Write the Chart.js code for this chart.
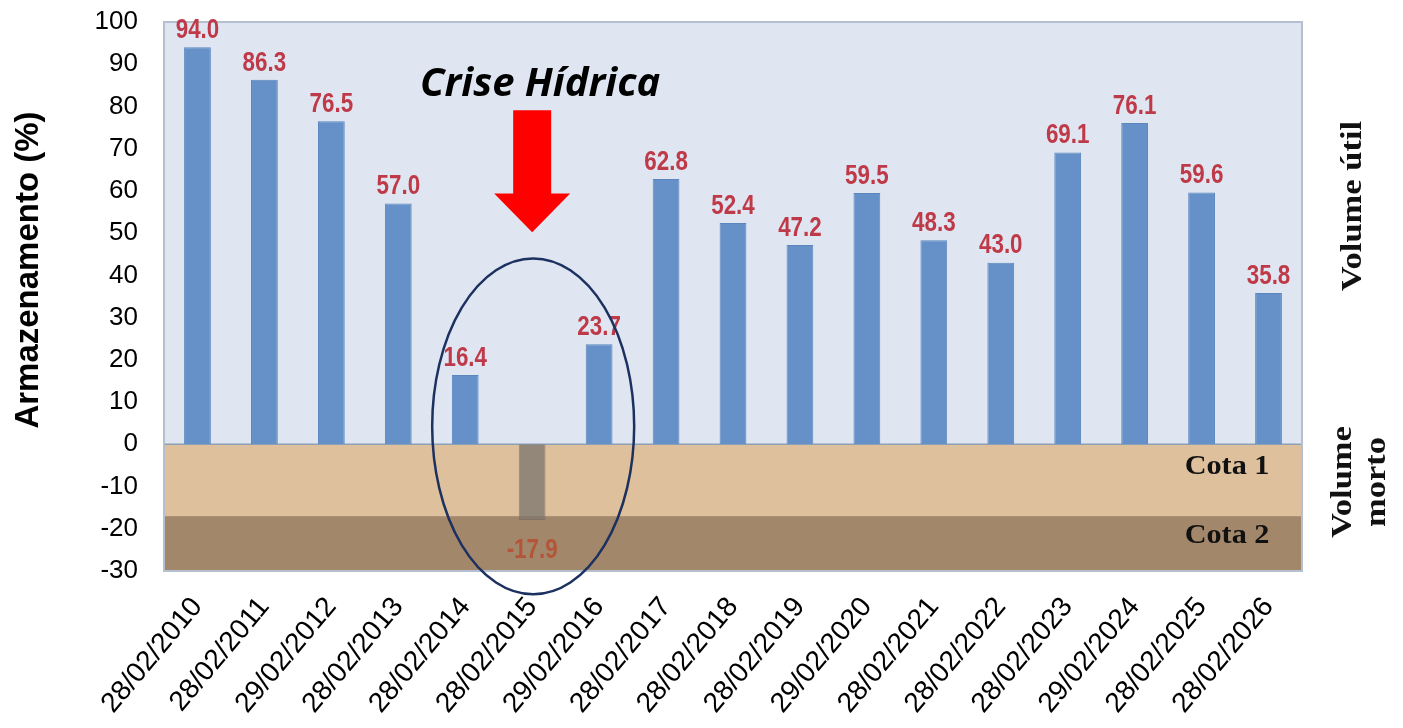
<!DOCTYPE html>
<html>
<head>
<meta charset="utf-8">
<script src="https://cdn.jsdelivr.net/npm/chart.js@4.4.1/dist/chart.umd.min.js"></script>
<style>
  html, body { margin: 0; padding: 0; background: #fff; }
  #wrap { width: 1403px; height: 728px; }
</style>
</head>
<body>
<div id="wrap"><canvas id="storageChart"></canvas></div>
<script>
const dates = ['28/02/2010', '28/02/2011', '29/02/2012', '28/02/2013', '28/02/2014', '28/02/2015',
  '29/02/2016', '28/02/2017', '28/02/2018', '28/02/2019', '29/02/2020', '28/02/2021',
  '28/02/2022', '28/02/2023', '29/02/2024', '28/02/2025', '28/02/2026'];
const storage = [94.0, 86.3, 76.5, 57.0, 16.4, -17.9, 23.7, 62.8, 52.4, 47.2, 59.5, 48.3, 43.0, 69.1, 76.1, 59.6, 35.8];
const yTicks = [100, 90, 80, 70, 60, 50, 40, 30, 20, 10, 0, -10, -20, -30];
const cota2Limit = -17;
const crisisIndex = 5;

// texto com compressão/expansão horizontal
function stretchText(ctx, text, x, y, sx) {
  ctx.save();
  ctx.translate(x, y);
  ctx.scale(sx, 1);
  ctx.fillText(text, 0, 0);
  ctx.restore();
}

// fundos das faixas, moldura, rótulos e anotações
const decorPlugin = {
  id: 'decor',
  beforeDatasetsDraw(chart) {
    const { ctx, chartArea: a, scales: { y } } = chart;
    const y0 = y.getPixelForValue(0);
    const yc = y.getPixelForValue(cota2Limit);
    ctx.save();
    ctx.fillStyle = '#dfe6f1';
    ctx.fillRect(a.left, a.top, a.right - a.left, y0 - a.top);
    ctx.fillStyle = '#dfc09c';
    ctx.fillRect(a.left, y0, a.right - a.left, yc - y0);
    ctx.fillStyle = '#a3876b';
    ctx.fillRect(a.left, yc, a.right - a.left, a.bottom - yc);
    ctx.strokeStyle = '#8ea0b8';
    ctx.lineWidth = 1.5;
    ctx.beginPath();
    ctx.moveTo(a.left, y0);
    ctx.lineTo(a.right, y0);
    ctx.stroke();
    ctx.restore();
  },
  afterDatasetsDraw(chart) {
    const { ctx, chartArea: a, scales: { x, y } } = chart;
    ctx.save();
    // moldura
    ctx.strokeStyle = '#b4bfcf';
    ctx.lineWidth = 2;
    ctx.strokeRect(a.left, a.top, a.right - a.left, a.bottom - a.top);

    // valores
    const meta = chart.getDatasetMeta(0);
    ctx.textAlign = 'center';
    ctx.textBaseline = 'middle';
    ctx.font = 'bold 28px "Liberation Sans", Arial, sans-serif';
    meta.data.forEach((bar, i) => {
      const v = storage[i];
      if (v >= 0) {
        ctx.fillStyle = '#bf3a48';
        stretchText(ctx, v.toFixed(1), bar.x, bar.y - 17, 0.8);
      } else {
        ctx.fillStyle = '#b4553a';
        stretchText(ctx, v.toFixed(1), bar.x, bar.y + 30, 0.8);
      }
    });

    // Cota 1 / Cota 2
    const cx = (x.getPixelForValue(15) + x.getPixelForValue(16)) / 2 - 8;
    ctx.fillStyle = '#111';
    ctx.font = 'bold 28px "Liberation Serif", "DejaVu Serif", serif';
    stretchText(ctx, 'Cota 1', cx, (y.getPixelForValue(0) + y.getPixelForValue(cota2Limit)) / 2 - 13, 1.08);
    stretchText(ctx, 'Cota 2', cx, (y.getPixelForValue(cota2Limit) + a.bottom) / 2 - 8, 1.08);

    // seta e título da crise
    const ax = x.getPixelForValue(crisisIndex);
    const shaftTop = y.getPixelForValue(79.1);
    const headTop = y.getPixelForValue(59.4);
    const tip = y.getPixelForValue(50.2);
    ctx.fillStyle = '#ff0000';
    ctx.beginPath();
    ctx.moveTo(ax - 19, shaftTop);
    ctx.lineTo(ax + 19, shaftTop);
    ctx.lineTo(ax + 19, headTop);
    ctx.lineTo(ax + 38, headTop);
    ctx.lineTo(ax, tip);
    ctx.lineTo(ax - 38, headTop);
    ctx.lineTo(ax - 19, headTop);
    ctx.closePath();
    ctx.fill();

    ctx.fillStyle = '#000';
    ctx.font = 'italic bold 40px "Open Sans", "DejaVu Sans", sans-serif';
    ctx.fillText('Crise Hídrica', ax + 8, y.getPixelForValue(85.2));

    // elipse
    const eTop = y.getPixelForValue(44);
    const eBot = y.getPixelForValue(-35.5);
    ctx.strokeStyle = '#1c3160';
    ctx.lineWidth = 2.5;
    ctx.beginPath();
    ctx.ellipse(ax + 1, (eTop + eBot) / 2, 101, (eBot - eTop) / 2, 0, 0, Math.PI * 2);
    ctx.stroke();

    // título do eixo y
    ctx.save();
    ctx.translate(29, 270);
    ctx.rotate(-Math.PI / 2);
    ctx.font = 'bold 33px "Liberation Sans", Arial, sans-serif';
    ctx.fillStyle = '#000';
    ctx.fillText('Armazenamento (%)', 0, 0);
    ctx.restore();

    // textos laterais
    ctx.font = 'bold 30px "Liberation Serif", "DejaVu Serif", serif';
    ctx.fillStyle = '#111';
    ctx.save();
    ctx.translate(1353, 206);
    ctx.rotate(-Math.PI / 2);
    stretchText(ctx, 'Volume útil', 0, 0, 1.15);
    ctx.restore();
    ctx.save();
    ctx.translate(1360, 482);
    ctx.rotate(-Math.PI / 2);
    stretchText(ctx, 'Volume', 0, -17, 1.15);
    stretchText(ctx, 'morto', 0, 17, 1.15);
    ctx.restore();

    ctx.restore();
  }
};

const chart = new Chart(document.getElementById('storageChart').getContext('2d'), {
  type: 'bar',
  data: {
    labels: dates,
    datasets: [{
      label: 'Armazenamento (%)',
      data: storage,
      backgroundColor: storage.map(v => v < 0 ? 'rgba(128, 120, 112, 0.8)' : '#6591c8'),
      borderColor: storage.map(v => v < 0 ? 'rgba(110, 100, 92, 0.6)' : '#5a86bd'),
      borderWidth: 1,
      categoryPercentage: 1,
      barPercentage: 0.4
    }]
  },
  options: {
    responsive: true,
    maintainAspectRatio: false,
    animation: false,
    layout: { padding: { top: 22, right: 101, left: 0, bottom: 0 } },
    plugins: {
      legend: { display: false },
      tooltip: { enabled: false }
    },
    scales: {
      x: {
        grid: { display: false },
        border: { display: false },
        ticks: {
          autoSkip: false,
          maxRotation: 50,
          minRotation: 50,
          color: '#000',
          padding: 12,
          font: { family: '"Liberation Sans", Arial, sans-serif', size: 28 }
        },
        afterFit(scale) { scale.height = 157; }
      },
      y: {
        min: -30,
        max: 100,
        grid: { display: false },
        border: { display: false },
        afterBuildTicks(scale) { scale.ticks = yTicks.map(v => ({ value: v })); },
        ticks: {
          color: '#000',
          padding: 18,
          font: { family: '"Liberation Sans", Arial, sans-serif', size: 26 }
        },
        afterFit(scale) {
          scale.width = 164;
          scale.paddingTop = 0;
          scale.paddingBottom = 0;
        }
      }
    }
  },
  plugins: [decorPlugin]
});
</script>
</body>
</html>
